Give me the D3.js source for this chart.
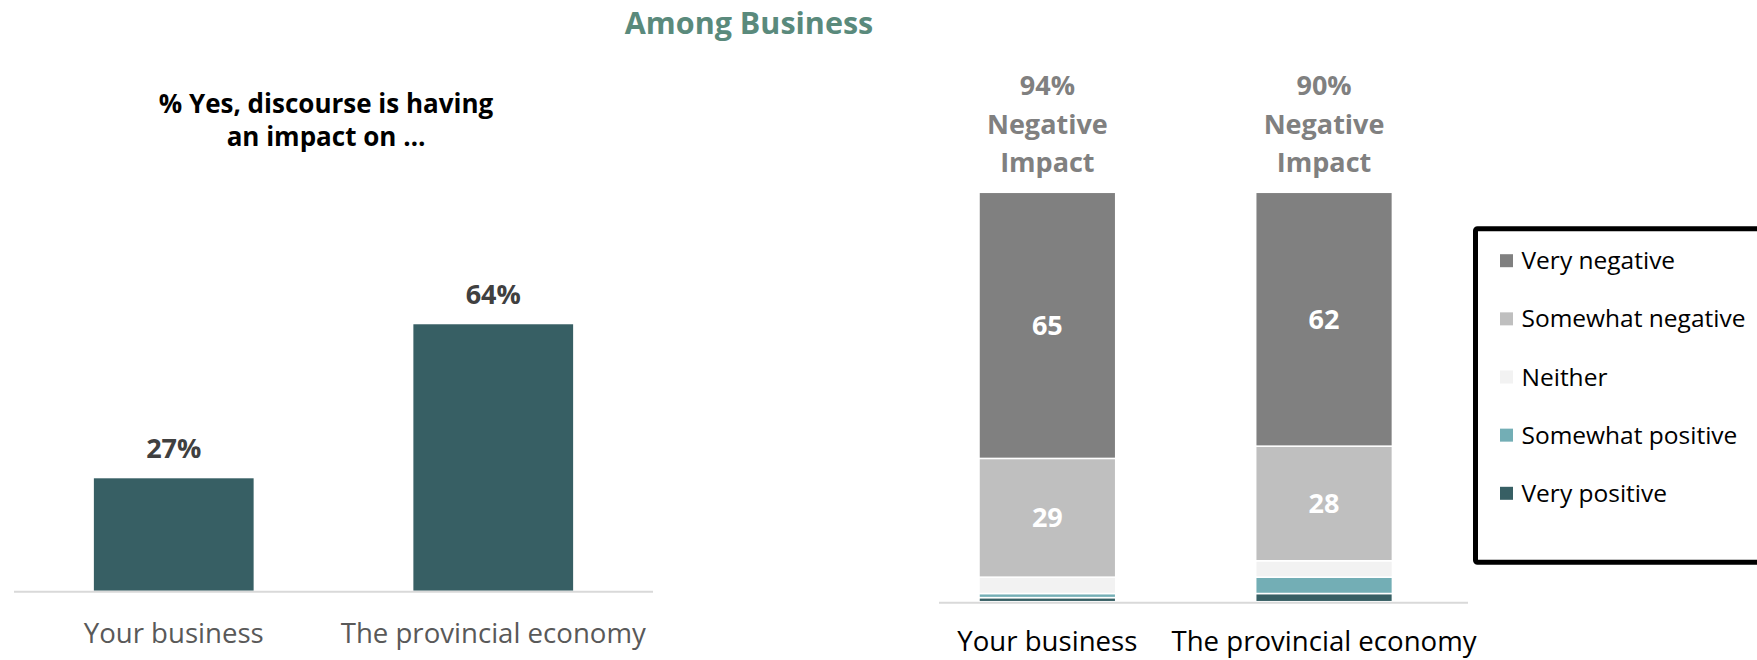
<!DOCTYPE html>
<html>
<head>
<meta charset="utf-8">
<script src="https://cdn.jsdelivr.net/npm/d3@7/dist/d3.min.js"></script>
<style>
  html, body { margin: 0; padding: 0; background: #fff; }
  svg { display: block; font-family: "Open Sans", "Noto Sans", sans-serif; }
</style>
</head>
<body>
<svg id="chart" width="1757" height="660"></svg>
<script>
// ---- data ----
const categories = ["Your business", "The provincial economy"];
const yesImpact = [27, 64];

const impactLevels = ["Very negative", "Somewhat negative", "Neither", "Somewhat positive", "Very positive"];
const veryNegative = [65, 62];
const somewhatNegative = [29, 28];
const neither = [4, 4];
const somewhatPositive = [1, 4];
const veryPositive = [1, 2];
const negativeTotals = [94, 90];

const levelColors = ["#808080", "#BFBFBF", "#F2F2F2", "#73AEB5", "#375F64"];

const svg = d3.select("#chart");

// ---- headings ----
svg.append("text")
  .attr("x", 749).attr("y", 34)
  .attr("text-anchor", "middle")
  .attr("font-size", 30.5).attr("font-weight", 700)
  .attr("fill", "#5A8A7C")
  .text("Among Business");

const sub = svg.append("text")
  .attr("text-anchor", "middle")
  .attr("font-size", 26).attr("font-weight", 700)
  .attr("fill", "#000");
sub.append("tspan").attr("x", 326).attr("y", 113).text("% Yes, discourse is having");
sub.append("tspan").attr("x", 326).attr("y", 146).text("an impact on \u2026");

// ---- left: simple bars ----
const xL = d3.scaleBand().domain(categories).range([14, 653]).paddingInner(0.5).paddingOuter(0.25);
const yL = d3.scaleLinear().domain([0, 100]).range([590.7, 174.4]);

const left = svg.append("g");
left.selectAll("rect.bar").data(categories).join("rect")
  .attr("class", "bar")
  .attr("x", d => xL(d))
  .attr("width", xL.bandwidth())
  .attr("y", (d, i) => yL(yesImpact[i]))
  .attr("height", (d, i) => yL(0) - yL(yesImpact[i]))
  .attr("fill", "#375F64");

left.append("line")
  .attr("x1", xL.range()[0]).attr("x2", xL.range()[1])
  .attr("y1", yL(0) + 1).attr("y2", yL(0) + 1)
  .attr("stroke", "#D9D9D9").attr("stroke-width", 2);

left.selectAll("text.val").data(categories).join("text")
  .attr("class", "val")
  .attr("x", d => xL(d) + xL.bandwidth() / 2)
  .attr("y", (d, i) => yL(yesImpact[i]) - 20)
  .attr("text-anchor", "middle")
  .attr("font-size", 27).attr("font-weight", 700)
  .attr("fill", "#404040")
  .text((d, i) => yesImpact[i] + "%");

left.selectAll("text.cat").data(categories).join("text")
  .attr("class", "cat")
  .attr("x", d => xL(d) + xL.bandwidth() / 2)
  .attr("y", 643)
  .attr("text-anchor", "middle")
  .attr("font-size", 27.6)
  .attr("fill", "#595959")
  .text(d => d);

// ---- right: stacked bars ----
const rows = categories.map((c, i) => ({
  category: c,
  "Very negative": veryNegative[i],
  "Somewhat negative": somewhatNegative[i],
  "Neither": neither[i],
  "Somewhat positive": somewhatPositive[i],
  "Very positive": veryPositive[i]
}));

// stack from the bottom: very positive first, very negative on top
const stackKeys = impactLevels.slice().reverse();
const series = d3.stack().keys(stackKeys)(rows);
const color = d3.scaleOrdinal().domain(impactLevels).range(levelColors);

const xR = d3.scaleBand().domain(categories).range([839, 1532.4]).padding(0.506);
const yR = d3.scaleLinear().domain([0, 100]).range([601.7, 192.3]);

const right = svg.append("g");
const layer = right.selectAll("g.layer").data(series).join("g")
  .attr("class", "layer")
  .attr("fill", d => color(d.key));

layer.selectAll("rect").data(d => d).join("rect")
  .attr("x", d => xR(d.data.category))
  .attr("width", xR.bandwidth())
  .attr("y", d => yR(d[1]))
  .attr("height", d => yR(d[0]) - yR(d[1]))
  .attr("stroke", "#fff").attr("stroke-width", 1.5);

right.append("line")
  .attr("x1", 939).attr("x2", 1468)
  .attr("y1", yR(0) + 1).attr("y2", yR(0) + 1)
  .attr("stroke", "#D9D9D9").attr("stroke-width", 2);

// value labels inside the two negative segments
const labelled = series.filter(s => s.key === "Very negative" || s.key === "Somewhat negative");
right.selectAll("g.lbl").data(labelled).join("g")
  .attr("class", "lbl")
  .selectAll("text").data(d => d).join("text")
  .attr("x", d => xR(d.data.category) + xR.bandwidth() / 2)
  .attr("y", d => (yR(d[0]) + yR(d[1])) / 2)
  .attr("dy", "0.35em")
  .attr("text-anchor", "middle")
  .attr("font-size", 27).attr("font-weight", 700)
  .attr("fill", "#fff")
  .text(d => d[1] - d[0]);

// totals above each stack
right.selectAll("text.total").data(categories).join("text")
  .attr("class", "total")
  .attr("text-anchor", "middle")
  .attr("font-size", 27).attr("font-weight", 700)
  .attr("fill", "#808080")
  .each(function (d, i) {
    const cx = xR(d) + xR.bandwidth() / 2;
    const t = d3.select(this);
    t.append("tspan").attr("x", cx).attr("y", 95).text(negativeTotals[i] + "%");
    t.append("tspan").attr("x", cx).attr("y", 134).text("Negative");
    t.append("tspan").attr("x", cx).attr("y", 172).text("Impact");
  });

right.selectAll("text.cat").data(categories).join("text")
  .attr("class", "cat")
  .attr("x", d => xR(d) + xR.bandwidth() / 2)
  .attr("y", 651)
  .attr("text-anchor", "middle")
  .attr("font-size", 27.6)
  .attr("fill", "#000")
  .text(d => d);

// ---- legend ----
const legend = svg.append("g");
legend.append("rect")
  .attr("x", 1475.5).attr("y", 228.8)
  .attr("width", 320).attr("height", 333.4)
  .attr("rx", 2)
  .attr("fill", "none").attr("stroke", "#000").attr("stroke-width", 5);

const ly = d3.scalePoint().domain(impactLevels).range([260.7, 493.3]);
const item = legend.selectAll("g.item").data(impactLevels).join("g")
  .attr("class", "item")
  .attr("transform", d => `translate(0,${ly(d)})`);
item.append("rect")
  .attr("x", 1500).attr("y", -6.5)
  .attr("width", 13).attr("height", 13)
  .attr("fill", d => color(d));
item.append("text")
  .attr("x", 1521.5).attr("y", 0)
  .attr("dy", "0.35em")
  .attr("font-size", 24.5)
  .attr("fill", "#000")
  .text(d => d);
</script>
</body>
</html>
